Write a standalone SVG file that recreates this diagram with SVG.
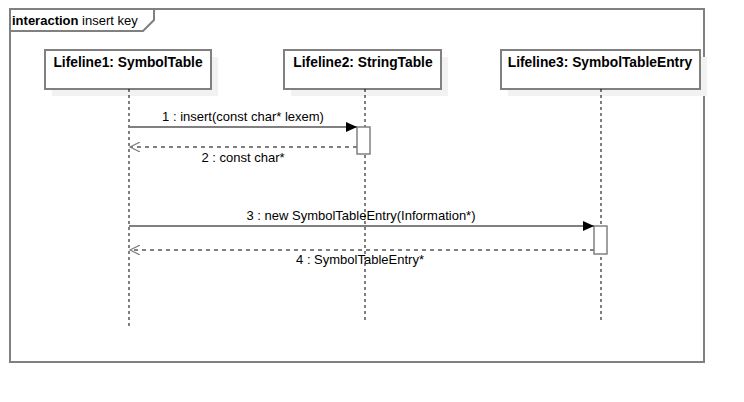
<svg xmlns="http://www.w3.org/2000/svg" width="744" height="402" viewBox="0 0 744 402">
<defs>
<style>
.frame{fill:none;stroke:#808080;stroke-width:2}
.box{fill:#fff;stroke:#808080;stroke-width:2}
.shadow{fill:#f2f2f2;stroke:none}
.life{stroke:#000;stroke-width:1;stroke-dasharray:3,3;fill:none}
.msg{stroke:#808080;stroke-width:2;fill:none}
.ret{stroke:#808080;stroke-width:2;stroke-dasharray:4,4;fill:none}
.act{fill:#fff;stroke:#808080;stroke-width:1.5}
text{font-family:"Liberation Sans",Arial,sans-serif;fill:#000}
.hdr{font-size:13.8px;font-weight:bold;text-anchor:middle}
.lbl{font-size:13px;text-anchor:middle}
</style>
<marker id="filled" markerWidth="12" markerHeight="10" refX="11" refY="5" orient="auto" markerUnits="userSpaceOnUse">
<path d="M0,0 L11,5 L0,10 Z" fill="#000"/>
</marker>
<marker id="open" markerWidth="12" markerHeight="10" refX="10" refY="5" orient="auto" markerUnits="userSpaceOnUse">
<path d="M0,0 L10,5 L0,10" fill="none" stroke="#808080" stroke-width="1.2"/>
</marker>
</defs>
<rect width="744" height="402" fill="#fff"/>
<g id="frame">
<rect class="frame" x="10" y="9" width="694" height="353"/>
<path class="frame" d="M10,31 L143,31 L154,20 L154,9" stroke-width="1.2"/>
<text x="12" y="25" font-size="13px"><tspan font-weight="bold">interaction</tspan> insert key</text>
</g>
<g id="lifeline1">
<rect class="shadow" x="52" y="57" width="166" height="39"/>
<rect class="box" x="45" y="50" width="166" height="39"/>
<text class="hdr" x="128" y="67">Lifeline1: SymbolTable</text>
<line class="life" x1="129" y1="89" x2="129" y2="327"/>
</g>
<g id="lifeline2">
<rect class="shadow" x="291" y="57" width="157" height="39"/>
<rect class="box" x="284" y="50" width="157" height="39"/>
<text class="hdr" x="363" y="67">Lifeline2: StringTable</text>
<line class="life" x1="365" y1="89" x2="365" y2="321"/>
<rect class="act" x="357" y="127" width="13" height="27"/>
</g>
<g id="lifeline3">
<rect class="shadow" x="508" y="57" width="199" height="39"/>
<rect class="box" x="501" y="50" width="199" height="39"/>
<text class="hdr" x="600" y="67">Lifeline3: SymbolTableEntry</text>
<line class="life" x1="601" y1="89" x2="601" y2="321"/>
<rect class="act" x="594" y="226" width="13" height="28"/>
</g>
<g id="connectors">
<line class="msg" x1="129" y1="127" x2="357" y2="127" marker-end="url(#filled)"/>
<text class="lbl" x="243" y="121">1 : insert(const char* lexem)</text>
<line class="ret" x1="357" y1="147" x2="130" y2="147" marker-end="url(#open)"/>
<text class="lbl" x="243" y="162">2 : const char*</text>
<line class="msg" x1="129" y1="226" x2="594" y2="226" marker-end="url(#filled)"/>
<text class="lbl" x="361" y="220">3 : new SymbolTableEntry(Information*)</text>
<line class="ret" x1="594" y1="250" x2="130" y2="250" marker-end="url(#open)"/>
<text class="lbl" x="360" y="264">4 : SymbolTableEntry*</text>
</g>
</svg>
